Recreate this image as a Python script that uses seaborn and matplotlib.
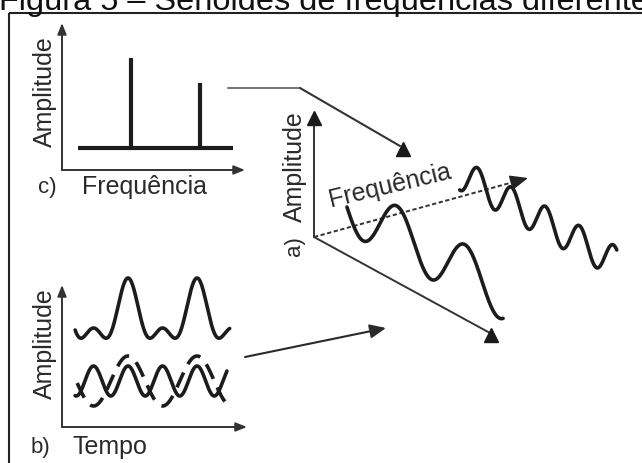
import numpy as np
import matplotlib
matplotlib.use("Agg")
import matplotlib.pyplot as plt
import seaborn as sns

sns.set_theme(style="white")
plt.rcParams["font.family"] = ["Liberation Sans", "DejaVu Sans"]

# ---------------------------------------------------------------- data
title = "Figura 5 – Senóides de frequências diferentes"
freqs = [1, 2]                      # relative frequency of each sinusoid
spectrum_heights = [1.0, 0.72]      # line heights of the spectrum (panel c)
component_amps = [1.0, 0.6]         # amplitudes of the two sinusoids
component_phase = [0.957, 0.957]    # time of the first crest (panel b)
waterfall_phase = [0.33, -0.14]     # crest offsets along the time axis (panel a)
waterfall_pos = [0.283, 0.808]      # where each sinusoid sits on the frequency axis
waterfall_span = [(-0.406, 1.89), (-0.40, 1.91)]

label_amp = "Amplitude"
label_freq = "Frequência"
label_time = "Tempo"
panel_tags = ["a)", "b)", "c)"]

INK = "#1c1c1c"
TXT = "#2a2a2a"
W, H = 642, 463


def wave(t, f, a, t0):
    return a * np.cos(2 * np.pi * f * (t - t0))


fig = plt.figure(figsize=(W / 100, H / 100), dpi=100)
canvas = fig.add_axes([0, 0, 1, 1])
canvas.set_xlim(0, W)
canvas.set_ylim(H, 0)
canvas.axis("off")


def px_axes(left, top, right, bottom):
    return fig.add_axes([left / W, (H - bottom) / H, (right - left) / W, (bottom - top) / H])


def axis_arrows(ax):
    style = dict(arrowstyle="-|>,head_length=0.55,head_width=0.22", lw=1.4,
                 color="#333333", shrinkA=0, shrinkB=0)
    ax.annotate("", xy=(1, 0), xytext=(0, 0), xycoords="axes fraction", arrowprops=style)
    ax.annotate("", xy=(0, 1), xytext=(0, 0), xycoords="axes fraction", arrowprops=style)
    ax.axis("off")


# ---------------------------------------------------------------- title + frame
canvas.text(-1, 10, title, fontsize=23.4, color="#111111", ha="left", va="baseline")
canvas.plot([9, W], [13, 13], color="#222222", lw=1.5, solid_capstyle="butt")
canvas.plot([9, 9], [13, H], color="#222222", lw=1.5, solid_capstyle="butt")

# ---------------------------------------------------------------- panel c: spectrum
ax_c = px_axes(62, 23, 245, 170)
ax_c.set_xlim(0, 2.652)
ax_c.set_ylim(-0.244, 1.389)
ax_c.hlines(0, 0.232, 2.478, color=INK, lw=3.0)
ax_c.vlines(freqs, 0, spectrum_heights, color=INK, lw=3.0)
axis_arrows(ax_c)
canvas.text(45, 92, label_amp, rotation=90, fontsize=18, color=TXT, ha="center", va="center")
canvas.text(47, 187, panel_tags[2], fontsize=16, color=TXT, ha="center", va="center")
canvas.text(145, 187, label_freq, fontsize=18, color=TXT, ha="center", va="center")

# ---------------------------------------------------------------- panel b: time signals
ax_b = px_axes(62, 285, 247, 427)
ax_b.set_xlim(0, 2.681)
ax_b.set_ylim(0, 5.68)
t_sum = np.linspace(0.19, 2.43, 600)
y_sum = 4.36 + sum(wave(t_sum, f, a, p) for f, a, p in zip(freqs, component_amps, component_phase))
sns.lineplot(x=t_sum, y=y_sum, ax=ax_b, color=INK, lw=2.6, estimator=None, sort=False)
t_hi = np.linspace(0.19, 2.39, 600)
sns.lineplot(x=t_hi, y=1.84 + wave(t_hi, freqs[1], component_amps[1], component_phase[1]),
             ax=ax_b, color=INK, lw=2.6, estimator=None, sort=False)
t_lo = np.linspace(0.22, 2.36, 600)
sns.lineplot(x=t_lo, y=1.84 + wave(t_lo, freqs[0], component_amps[0], component_phase[0]),
             ax=ax_b, color=INK, lw=2.6, estimator=None, sort=False)
ax_b.lines[-1].set_linestyle((0, (4.5, 2.6)))
for ln in ax_b.lines:
    ln.set_clip_on(False)
axis_arrows(ax_b)
canvas.text(45, 344, label_amp, rotation=90, fontsize=18, color=TXT, ha="center", va="center")
canvas.text(40, 447, panel_tags[1], fontsize=16, color=TXT, ha="center", va="center")
canvas.text(110, 447, label_time, fontsize=18, color=TXT, ha="center", va="center")

# ---------------------------------------------------------------- panel a: waterfall view
origin = np.array([314.0, 237.0])
amp_tip = np.array([314.0, 113.0])
freq_tip = np.array([528.0, 178.0])
time_tip = np.array([490.0, 336.0])
period_vec = np.array([68.0, 38.6])   # one period of the slow sinusoid along the time axis
amp_px = 27.0

canvas.plot([origin[0], amp_tip[0]], [origin[1], amp_tip[1] + 6], color="#333333", lw=1.4)
canvas.plot([origin[0], time_tip[0]], [origin[1], time_tip[1] - 3], color="#333333", lw=1.4)
canvas.plot([origin[0], freq_tip[0] - 10], [origin[1], freq_tip[1] + 2.8],
            color="#333333", lw=1.4, linestyle=(0, (2.2, 1.3)))
canvas.annotate("", xy=freq_tip, xytext=freq_tip - (freq_tip - origin) * 0.06,
                arrowprops=dict(arrowstyle="-|>,head_length=0.9,head_width=0.38",
                                lw=1.2, color="#222222", shrinkA=0, shrinkB=0))
canvas.plot([amp_tip[0]], [amp_tip[1] + 5], marker="^", ms=9.5, color="#1a1a1a", mec="#1a1a1a")
canvas.plot([time_tip[0] + 1], [time_tip[1] - 1], marker="^", ms=9.5, color="#1a1a1a", mec="#1a1a1a")

for f, a, t0, pos, (ta, tb) in zip(freqs, component_amps, waterfall_phase, waterfall_pos, waterfall_span):
    base = origin + pos * (freq_tip - origin)
    t = np.linspace(ta, tb, 700)
    xs = base[0] + t * period_vec[0]
    ys = base[1] + t * period_vec[1] - amp_px * wave(t, f, a, t0)
    sns.lineplot(x=xs, y=ys, ax=canvas, color=INK, lw=2.6, estimator=None, sort=False)

canvas.text(295, 167, label_amp, rotation=90, fontsize=18, color=TXT, ha="center", va="center")
canvas.text(295, 246, panel_tags[0], rotation=90, fontsize=16, color=TXT, ha="center", va="center")
canvas.text(390, 186, label_freq, rotation=13.5, fontsize=18, color=TXT, ha="center", va="center",
            rotation_mode="anchor")

# ---------------------------------------------------------------- connectors
canvas.plot([228, 300], [88, 88], color="#7a7a7a", lw=1.5)
canvas.plot([300, 400], [88, 146], color="#333333", lw=1.5)
canvas.plot([403], [149], marker="^", ms=9.5, color="#1a1a1a", mec="#1a1a1a")
canvas.annotate("", xy=(386, 328), xytext=(245, 357),
                arrowprops=dict(arrowstyle="-|>,head_length=0.8,head_width=0.35",
                                lw=1.5, color="#2a2a2a", shrinkA=0, shrinkB=0))

canvas.set_xlim(0, W)
canvas.set_ylim(H, 0)
fig.savefig("out.png", dpi=100, facecolor="white")
